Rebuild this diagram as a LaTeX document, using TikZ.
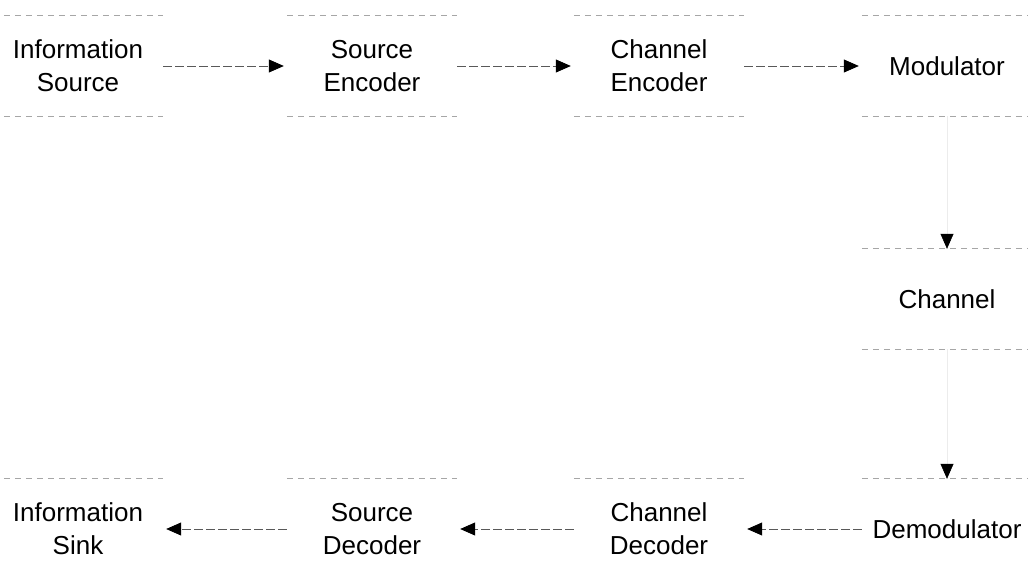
\documentclass[tikz,border=0pt]{standalone}
\usepackage{fontspec}
\setmainfont{Liberation Sans}
\usetikzlibrary{arrows.meta}
\begin{document}
\begin{tikzpicture}[x=1pt,y=-1pt,
 blk/.style={minimum width=170pt,minimum height=100pt,inner sep=0pt,align=center,font=\fontsize{26}{33}\selectfont},
 edge/.style={gray!70,line width=0.9pt,dash pattern=on 6pt off 5pt},
 flow/.style={gray!70!black,line width=0.8pt,dash pattern=on 9pt off 3pt,shorten >=3pt,-{Triangle[length=15pt,width=13pt,color=black]}},
 vflow/.style={gray!15,line width=0.6pt,-{Triangle[length=15pt,width=13pt,color=black]}}]
\path[use as bounding box] (0,0) rectangle (1028,576);
\clip (0,0) rectangle (1028,576);
\node[blk] (is)  at (78,66)  {Information\\Source};
\node[blk] (se)  at (372,66) {Source\\Encoder};
\node[blk] (ce)  at (659,66) {Channel\\Encoder};
\node[blk] (mod) at (947,66) {Modulator};
\node[blk] (ch)  at (947,299) {Channel};
\node[blk] (dem) at (947,529) {Demodulator};
\node[blk] (cd)  at (659,529) {Channel\\Decoder};
\node[blk] (sd)  at (372,529) {Source\\Decoder};
\node[blk] (isk) at (78,529) {Information\\Sink};
\foreach \n in {is,se,ce,mod,ch,dem,cd,sd,isk} {
  \draw[edge] (\n.north west) -- (\n.north east);
  \draw[edge] (\n.south west) -- (\n.south east);
}
\draw[flow] (is) -- (se);
\draw[flow] (se) -- (ce);
\draw[flow] (ce) -- (mod);
\draw[vflow] (mod) -- (ch);
\draw[vflow] (ch) -- (dem);
\draw[flow] (dem) -- (cd);
\draw[flow] (cd) -- (sd);
\draw[flow] (sd) -- (isk);
\end{tikzpicture}
\end{document}
